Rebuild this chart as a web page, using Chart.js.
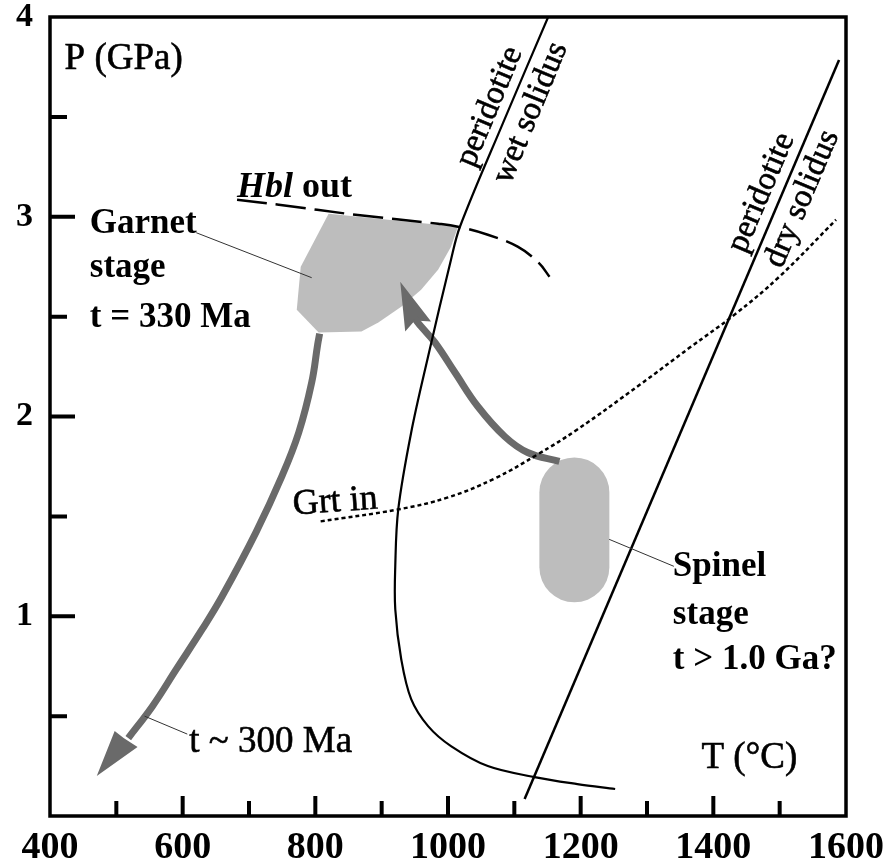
<!DOCTYPE html>
<html>
<head>
<meta charset="utf-8">
<script src="https://cdn.jsdelivr.net/npm/chart.js@4.4.0/dist/chart.umd.min.js"></script>
<style>
    body { margin: 0; background: #fff; }
</style>
</head>
<body>
<canvas id="pt" width="884" height="861"></canvas>
<script>
// P-T path, values (T in degC, P in GPa)
const xTicks = [400, 600, 800, 1000, 1200, 1400, 1600];
const yTicks = [1, 2, 3, 4];

const wetSolidusT = [1151, 1083, 1018, 1004.5, 970, 944.5, 925, 920.5, 920.5, 929.5, 944.5, 970, 1004.5, 1060, 1130.5, 1195, 1252];
const wetSolidusP = [4.0, 3.47, 2.95, 2.785, 2.30, 1.92, 1.535, 1.25, 1.035, 0.785, 0.585, 0.45, 0.35, 0.25, 0.195, 0.16, 0.135];

const drySolidusT = [1115.5, 1589.5];
const drySolidusP = [0.085, 3.785];

const grtInT = [808, 925, 1000, 1070.5, 1135, 1195, 1289.5, 1364.5, 1432, 1499.5, 1585];
const grtInP = [1.475, 1.535, 1.595, 1.69, 1.81, 1.935, 2.16, 2.345, 2.51, 2.70, 2.985];

const hblOutT = [682, 745, 860.5, 985, 1015, 1060, 1105, 1136.5, 1153];
const hblOutP = [3.085, 3.06, 3.01, 2.965, 2.95, 2.91, 2.85, 2.77, 2.70];

const garnetT = [820, 1015, 1004.5, 985, 959.5, 929.5, 895, 869.5, 805, 772, 778];
const garnetP = [3.015, 2.95, 2.85, 2.735, 2.635, 2.55, 2.47, 2.425, 2.42, 2.535, 2.75];

const spinelT = [1190.5, 1190.5];
const spinelP = [1.245, 1.62];

const coolingT = [806.5, 803.5, 794.5, 775, 749.5, 710.5, 659.5, 629.5, 590.5, 554.5, 518];
const coolingP = [2.415, 2.36, 2.17, 1.92, 1.70, 1.42, 1.10, 0.935, 0.735, 0.55, 0.39];
const coolingHeadT = [470.5, 497.5, 511, 532];
const coolingHeadP = [0.20, 0.425, 0.39, 0.345];

const burialT = [1168, 1120, 1085.5, 1045, 1010.5, 980.5, 959.5, 950];
const burialP = [1.775, 1.82, 1.90, 2.05, 2.22, 2.37, 2.45, 2.49];
const burialHeadT = [928, 935.5, 950, 974.5];
const burialHeadP = [2.675, 2.425, 2.48, 2.475];

const leaderGarnetT = [620.5, 794.5];
const leaderGarnetP = [2.92, 2.695];
const leaderSpinelT = [1243, 1340.5];
const leaderSpinelP = [1.385, 1.25];
const leaderCoolT = [542.5, 607];
const leaderCoolP = [0.5, 0.41];

const serif = "'Liberation Serif', 'DejaVu Serif', serif";

// text notes: x/y in data units
const notes = [
    { text: 'P (GPa)', x: 422, y: 3.74, size: 37 },
    { text: 'Garnet', x: 460, y: 2.92, size: 35, bold: true },
    { text: 'stage', x: 460, y: 2.70, size: 35, bold: true },
    { text: 't = 330 Ma', x: 460, y: 2.45, size: 35, bold: true },
    { text: 'Spinel', x: 1339, y: 1.20, size: 35, bold: true },
    { text: 'stage', x: 1339, y: 0.96, size: 35, bold: true },
    { text: 't > 1.0 Ga?', x: 1339, y: 0.735, size: 35, bold: true },
    { text: 'Grt in', x: 767, y: 1.51, size: 36, rot: -4 },
    { text: 't ~ 300 Ma', x: 610, y: 0.32, size: 37 },
    { text: 'T (°C)', x: 1382, y: 0.24, size: 37 },
    { text: 'peridotite', x: 1063, y: 3.55, size: 33, rot: -67.4, center: true },
    { text: 'wet solidus', x: 1124.5, y: 3.52, size: 33, rot: -67.4, center: true },
    { text: 'peridotite', x: 1472.5, y: 3.12, size: 33, rot: -67, center: true },
    { text: 'dry solidus', x: 1534, y: 3.09, size: 33, rot: -67, center: true }
];

const pts = (ts, ps) => ts.map((t, i) => ({ x: t, y: ps[i] }));

const gray = '#bdbdbd';
const arrowGray = '#6a6a6a';

const datasets = [
    { data: pts(garnetT, garnetP), fill: 'shape', backgroundColor: gray, borderWidth: 0, tension: 0, order: 9 },
    { data: pts(spinelT, spinelP), borderColor: gray, borderWidth: 70, borderCapStyle: 'round', order: 9 },
    { data: pts(coolingT, coolingP), borderColor: arrowGray, borderWidth: 7, tension: 0.4, order: 7 },
    { data: pts(coolingHeadT, coolingHeadP), fill: 'shape', backgroundColor: arrowGray, borderWidth: 0, tension: 0, order: 7 },
    { data: pts(burialT, burialP), borderColor: arrowGray, borderWidth: 7, tension: 0.4, order: 7 },
    { data: pts(burialHeadT, burialHeadP), fill: 'shape', backgroundColor: arrowGray, borderWidth: 0, tension: 0, order: 7 },
    { data: pts(wetSolidusT, wetSolidusP), borderColor: '#000', borderWidth: 2.2, tension: 0.35, order: 5 },
    { data: pts(drySolidusT, drySolidusP), borderColor: '#000', borderWidth: 2.5, order: 5 },
    { data: pts(grtInT, grtInP), borderColor: '#000', borderWidth: 2.5, borderDash: [4, 3], tension: 0.4, order: 5 },
    { data: pts(hblOutT, hblOutP), borderColor: '#000', borderWidth: 2.5, borderDash: [30, 9], tension: 0.4, order: 5 },
    { data: pts(leaderGarnetT, leaderGarnetP), borderColor: '#333', borderWidth: 1, order: 4 },
    { data: pts(leaderSpinelT, leaderSpinelP), borderColor: '#333', borderWidth: 1, order: 4 },
    { data: pts(leaderCoolT, leaderCoolP), borderColor: '#333', borderWidth: 1, order: 4 }
].map(d => Object.assign({ pointRadius: 0, fill: false, backgroundColor: 'transparent' }, d));

// frame + inward ticks + notes
const framePlugin = {
    id: 'frame',
    afterDatasetsDraw(chart) {
        const { ctx, chartArea: a, scales } = chart;
        ctx.save();
        ctx.strokeStyle = '#000';
        ctx.lineWidth = 4;
        ctx.lineCap = 'butt';
        ctx.beginPath();
        scales.x.ticks.forEach(t => {
            if (t.value <= 400 || t.value >= 1600) return;
            const px = scales.x.getPixelForValue(t.value);
            const len = t.value % 200 === 0 ? 20 : 15;
            ctx.moveTo(px, a.bottom);
            ctx.lineTo(px, a.bottom - len);
        });
        scales.y.ticks.forEach(t => {
            if (t.value <= 0 || t.value >= 4) return;
            const py = scales.y.getPixelForValue(t.value);
            const len = t.value % 1 === 0 ? 25 : 17;
            ctx.moveTo(a.left, py);
            ctx.lineTo(a.left + len, py);
        });
        ctx.stroke();
        ctx.lineWidth = 3.5;
        ctx.strokeRect(a.left, a.top, a.right - a.left, a.bottom - a.top);

        ctx.fillStyle = '#000';
        ctx.lineWidth = 0.6;
        notes.forEach(n => {
            const px = scales.x.getPixelForValue(n.x);
            const py = scales.y.getPixelForValue(n.y);
            ctx.save();
            ctx.translate(px, py);
            if (n.rot) ctx.rotate(n.rot * Math.PI / 180);
            ctx.font = (n.bold ? 'bold ' : '') + n.size + 'px ' + serif;
            ctx.textAlign = n.center ? 'center' : 'left';
            ctx.textBaseline = n.center ? 'middle' : 'alphabetic';
            ctx.fillText(n.text, 0, 0);
            if (!n.bold) ctx.strokeText(n.text, 0, 0);
            ctx.restore();
        });

        // Hbl out: italic mineral name, upright word
        const hx = scales.x.getPixelForValue(682);
        const hy = scales.y.getPixelForValue(3.10);
        ctx.font = 'italic bold 36px ' + serif;
        ctx.textAlign = 'left';
        ctx.textBaseline = 'alphabetic';
        ctx.fillText('Hbl', hx, hy);
        const w = ctx.measureText('Hbl').width;
        ctx.font = 'bold 36px ' + serif;
        ctx.fillText(' out', hx + w, hy);
        ctx.restore();
    }
};

new Chart(document.getElementById('pt').getContext('2d'), {
    type: 'line',
    data: { datasets },
    options: {
        responsive: false,
        animation: false,
        layout: { padding: { top: 17, right: 38, left: 0, bottom: 0 } },
        plugins: { legend: { display: false }, tooltip: { enabled: false } },
        scales: {
            x: {
                type: 'linear', min: 400, max: 1600,
                grid: { display: false, drawTicks: false },
                border: { display: false },
                ticks: {
                    stepSize: 100, autoSkip: false, maxRotation: 0, padding: 9,
                    color: '#000', font: { family: serif, size: 38, weight: 'bold' },
                    callback: v => xTicks.includes(v) ? String(v) : ''
                },
                afterFit: s => { s.height = 45; s.paddingLeft = 0; s.paddingRight = 0; }
            },
            y: {
                type: 'linear', min: 0, max: 4,
                grid: { display: false, drawTicks: false },
                border: { display: false },
                ticks: {
                    stepSize: 0.5, autoSkip: false, padding: 17,
                    color: '#000', font: { family: serif, size: 34, weight: 'bold' },
                    callback: v => yTicks.includes(v) ? String(v) : ''
                },
                afterFit: s => { s.width = 50; s.paddingTop = 0; s.paddingBottom = 0; }
            }
        }
    },
    plugins: [framePlugin]
});
</script>
</body>
</html>
